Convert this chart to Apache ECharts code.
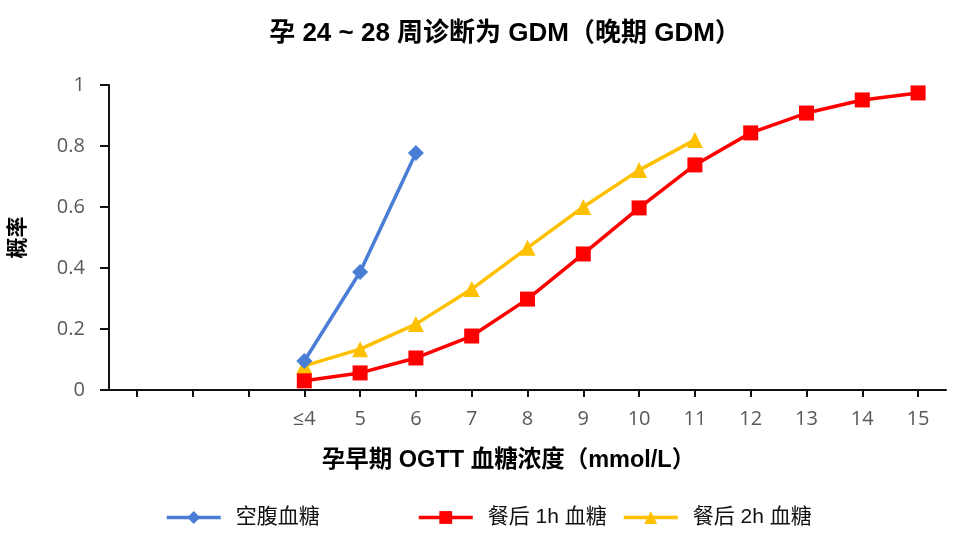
<!DOCTYPE html>
<html>
<head>
<meta charset="utf-8">
<script src="https://cdn.jsdelivr.net/npm/echarts@6/dist/echarts.min.js"></script>
<style>
html, body { margin: 0; padding: 0; background: #fff; }
#chart { width: 960px; height: 537px; }
</style>
</head>
<body>
<div id="chart"></div>
<script>
var categories = ['', '', '', '≤4', '5', '6', '7', '8', '9', '10', '11', '12', '13', '14', '15'];
var fasting = [null, null, null, 0.095, 0.387, 0.777];
var post1h = [null, null, null, 0.03, 0.056, 0.105, 0.177, 0.298, 0.446, 0.597, 0.738, 0.843, 0.908, 0.951, 0.974];
var post2h = [null, null, null, 0.079, 0.134, 0.216, 0.331, 0.466, 0.6, 0.721, 0.82];
var yTicks = [0, 0.2, 0.4, 0.6, 0.8, 1];

var cjk = '"Liberation Sans", "Noto Sans CJK SC", sans-serif';
var labelFont = '"Open Sans", "Noto Sans CJK SC", sans-serif';

var chart = echarts.init(document.getElementById('chart'));

function legendAt(name, left) {
    return {
        data: [name],
        left: left,
        top: 502,
        itemWidth: 54,
        itemHeight: 16,
        itemGap: 0,
        lineStyle: { width: 3.5 },
        textStyle: { fontFamily: cjk, fontSize: 21, color: '#111', padding: [0, 0, 0, 10] }
    };
}

var option = {
    animation: false,
    title: {
        text: '孕 24 ~ 28 周诊断为 GDM（晚期 GDM）',
        left: 500,
        textAlign: 'center',
        top: 16,
        textStyle: { fontFamily: cjk, fontSize: 26, fontWeight: 'bold', color: '#000' }
    },
    legend: [
        legendAt('空腹血糖', 160),
        legendAt('餐后 1h 血糖', 412),
        legendAt('餐后 2h 血糖', 617)
    ],
    grid: { left: 107, right: 14, top: 85, bottom: 147 },
    xAxis: {
        type: 'category',
        data: categories,
        boundaryGap: true,
        name: '孕早期 OGTT 血糖浓度（mmol/L）',
        nameLocation: 'middle',
        nameGap: 59,
        nameTextStyle: { fontFamily: cjk, fontSize: 23.5, fontWeight: 'bold', color: '#000', padding: [0, 38, 0, 0] },
        axisLine: { show: true, lineStyle: { color: '#111', width: 2 } },
        axisTick: { show: true, inside: false, alignWithLabel: true, interval: 0, length: 7, lineStyle: { color: '#111', width: 2 } },
        axisLabel: { fontFamily: labelFont, fontSize: 20, color: '#595959', margin: 19, interval: 0 }
    },
    yAxis: {
        type: 'value',
        min: 0,
        max: 1,
        interval: 0.2,
        name: '概率',
        nameLocation: 'middle',
        nameRotate: 90,
        nameGap: 80,
        nameTextStyle: { fontFamily: cjk, fontSize: 21, fontWeight: 'bold', color: '#000' },
        splitLine: { show: false },
        axisLine: { show: true, lineStyle: { color: '#111', width: 2 } },
        axisTick: { show: true, inside: false, length: 9, lineStyle: { color: '#111', width: 2 } },
        axisLabel: {
            fontFamily: labelFont, fontSize: 20, color: '#595959', margin: 24,
            formatter: function (v) { return yTicks.indexOf(+v.toFixed(1)) >= 0 ? String(+v.toFixed(1)) : ''; }
        }
    },
    series: [
        {
            name: '空腹血糖',
            type: 'line',
            data: fasting,
            symbol: 'diamond',
            symbolSize: 16,
            lineStyle: { color: '#4A7DD6', width: 3.5 },
            itemStyle: { color: '#4A7DD6' }
        },
        {
            name: '餐后 1h 血糖',
            type: 'line',
            data: post1h,
            symbol: 'rect',
            symbolSize: 15,
            z: 3,
            lineStyle: { color: '#FF0000', width: 3.5 },
            itemStyle: { color: '#FF0000' }
        },
        {
            name: '餐后 2h 血糖',
            type: 'line',
            data: post2h,
            symbol: 'triangle',
            symbolSize: 16,
            z: 2,
            lineStyle: { color: '#FFC000', width: 3.5 },
            itemStyle: { color: '#FFC000' }
        }
    ]
};

chart.setOption(option);

window.onresize = chart.resize;
</script>
</body>
</html>
